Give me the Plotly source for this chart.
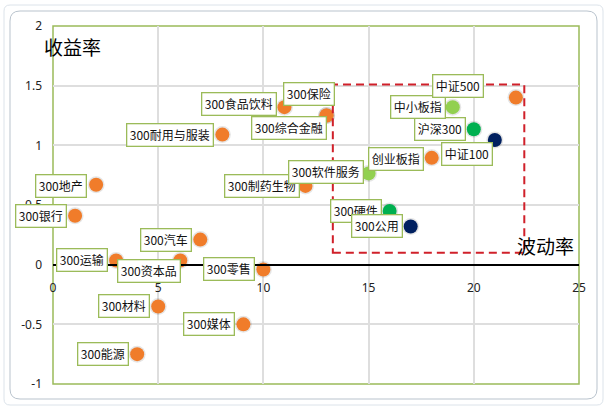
import plotly.graph_objects as go

# ---------------- data ----------------
names = ["300食品饮料", "300保险", "300综合金融", "300耐用与服装", "300地产", "300银行",
         "300汽车", "300运输", "300资本品", "300零售", "300材料", "300媒体", "300能源",
         "300制药生物", "300软件服务", "创业板指", "中证100", "沪深300", "中小板指",
         "中证500", "300硬件", "300公用"]
volatility = [11.0, 13.0, 13.0, 8.05, 2.05, 1.05,
              7.0, 3.0, 6.05, 10.0, 5.0, 9.05, 4.0,
              12.0, 15.0, 18.0, 21.0, 20.0, 19.0,
              22.0, 16.0, 17.0]
returns = [1.32, 1.25, 1.25, 1.09, 0.67, 0.41,
           0.21, 0.035, 0.035, -0.04, -0.35, -0.50, -0.75,
           0.66, 0.765, 0.895, 1.045, 1.135, 1.32,
           1.40, 0.45, 0.32]
groups = ["orange", "orange", "orange", "orange", "orange", "orange",
          "orange", "orange", "orange", "orange", "orange", "orange", "orange",
          "orange", "lightgreen", "orange", "navy", "green", "lightgreen",
          "orange", "green", "navy"]

x_ticks = [0, 5, 10, 15, 20, 25]
x_tick_labels = ["0", "5", "10", "15", "20", "25"]
y_ticks = [-1, -0.5, 0, 0.5, 1, 1.5, 2]
y_tick_labels = ["-1", "-0.5", "0", "0.5", "1", "1.5", "2"]

highlight_x = [13.3, 22.4]
highlight_y = [0.1, 1.51]

# ---------------- styles ----------------
palette = {"orange": "#F07C2A", "lightgreen": "#92D050", "green": "#00B050", "navy": "#002060"}
colors = [palette[g] for g in groups]

# label offsets (pixels, dx right, dy down) relative to each point
label_offsets = [(-45, -3), (-18, -22), (-38, 12), (-52, 0), (-35, 1), (-34, 0),
                 (-34, 0), (-34, 0), (-31, 11), (-34, 0), (-34, 0), (-34, 0), (-34, 0),
                 (-43, 0), (-43, -1), (-36, 1), (-28, 14), (-34, 0), (-35, 0),
                 (-58, -12), (-34, 0), (-34, 0)]

W, H = 608, 410
L, R, T, B = 53, 29, 26, 26
pw, ph = W - L - R, H - T - B


def px_to_paper(px, py):
    return (px - L) / pw, (H - B - py) / ph


fig = go.Figure()

# soft shadow
fig.add_trace(go.Scatter(
    x=volatility, y=returns, mode="markers",
    marker=dict(size=17, color="rgba(0,0,0,0.10)", line=dict(width=0)),
    hoverinfo="skip", showlegend=False))

fig.add_trace(go.Scatter(
    x=volatility, y=returns, mode="markers",
    marker=dict(size=14, color=colors, line=dict(width=0)),
    hoverinfo="skip", showlegend=False))

annotations = []
for n, xv, yv, (dx, dy) in zip(names, volatility, returns, label_offsets):
    annotations.append(dict(
        x=xv, y=yv, xref="x", yref="y", text=n, showarrow=False,
        xshift=dx, yshift=-dy, height=16,
        font=dict(family="Noto Sans CJK SC", size=12, color="#111111"),
        bgcolor="white", bordercolor="#9BBB59", borderwidth=1.3, borderpad=2.5))

ax_font = dict(family="Noto Sans CJK SC", size=19, color="#000000")
x1, y1 = px_to_paper(72, 46)
annotations.append(dict(x=x1, y=y1, xref="paper", yref="paper", text="收益率",
                        showarrow=False, font=ax_font, xanchor="center", yanchor="middle"))
x2, y2 = px_to_paper(545, 245)
annotations.append(dict(x=x2, y=y2, xref="paper", yref="paper", text="波动率",
                        showarrow=False, font=ax_font, xanchor="center", yanchor="middle"))

shapes = []
# outer chart frame (rounded)
def rounded_rect(px0, py0, px1, py1, r, color, width):
    fx0, fy0 = px_to_paper(px0, py0)
    fx1, fy1 = px_to_paper(px1, py1)
    rx, ry = r / pw, r / ph
    path = (f"M {fx0+rx},{fy0} L {fx1-rx},{fy0} Q {fx1},{fy0} {fx1},{fy0-ry} "
            f"L {fx1},{fy1+ry} Q {fx1},{fy1} {fx1-rx},{fy1} "
            f"L {fx0+rx},{fy1} Q {fx0},{fy1} {fx0},{fy1+ry} "
            f"L {fx0},{fy0-ry} Q {fx0},{fy0} {fx0+rx},{fy0} Z")
    return dict(type="path", path=path, xref="paper", yref="paper",
                line=dict(color=color, width=width), layer="below")

shapes.append(rounded_rect(4, 5, 603, 405, 6, "#DCE3EA", 1))
shapes.append(rounded_rect(10, 11, 597, 399, 10, "#B9C3CD", 1))

# plot area border
shapes.append(dict(type="rect", xref="paper", yref="paper", x0=0, y0=0, x1=1, y1=1,
                   line=dict(color="#9BBB59", width=1.5), layer="below"))
# highlight region
shapes.append(dict(type="rect", xref="x", yref="y",
                   x0=highlight_x[0], x1=highlight_x[1], y0=highlight_y[0], y1=highlight_y[1],
                   line=dict(color="#D0202A", width=2, dash="8px,5px"), layer="above"))

tick_font = dict(family="Noto Sans", size=12, color="#222222")

fig.update_layout(
    width=W, height=H,
    margin=dict(l=L, r=R, t=T, b=B, pad=0),
    paper_bgcolor="white", plot_bgcolor="white",
    showlegend=False, hovermode=False,
    annotations=annotations, shapes=shapes,
    xaxis=dict(range=[0, 25], tickvals=x_ticks, ticktext=x_tick_labels,
               showgrid=True, gridcolor="#DEDEDE", gridwidth=1.5,
               zeroline=False, showline=True, linecolor="#000000", linewidth=2,
               anchor="free", position=1/3, ticks="", ticklabelstandoff=12,
               tickfont=tick_font, fixedrange=True),
    yaxis=dict(range=[-1, 2], tickvals=y_ticks, ticktext=y_tick_labels,
               showgrid=True, gridcolor="#DEDEDE", gridwidth=1.5,
               zeroline=False, showline=False, ticks="", ticklabelstandoff=10,
               tickfont=tick_font, fixedrange=True),
)

fig.write_html("out.html", config={"displayModeBar": False},
               post_script="document.body.style.margin='0';document.body.style.overflow='hidden';")
